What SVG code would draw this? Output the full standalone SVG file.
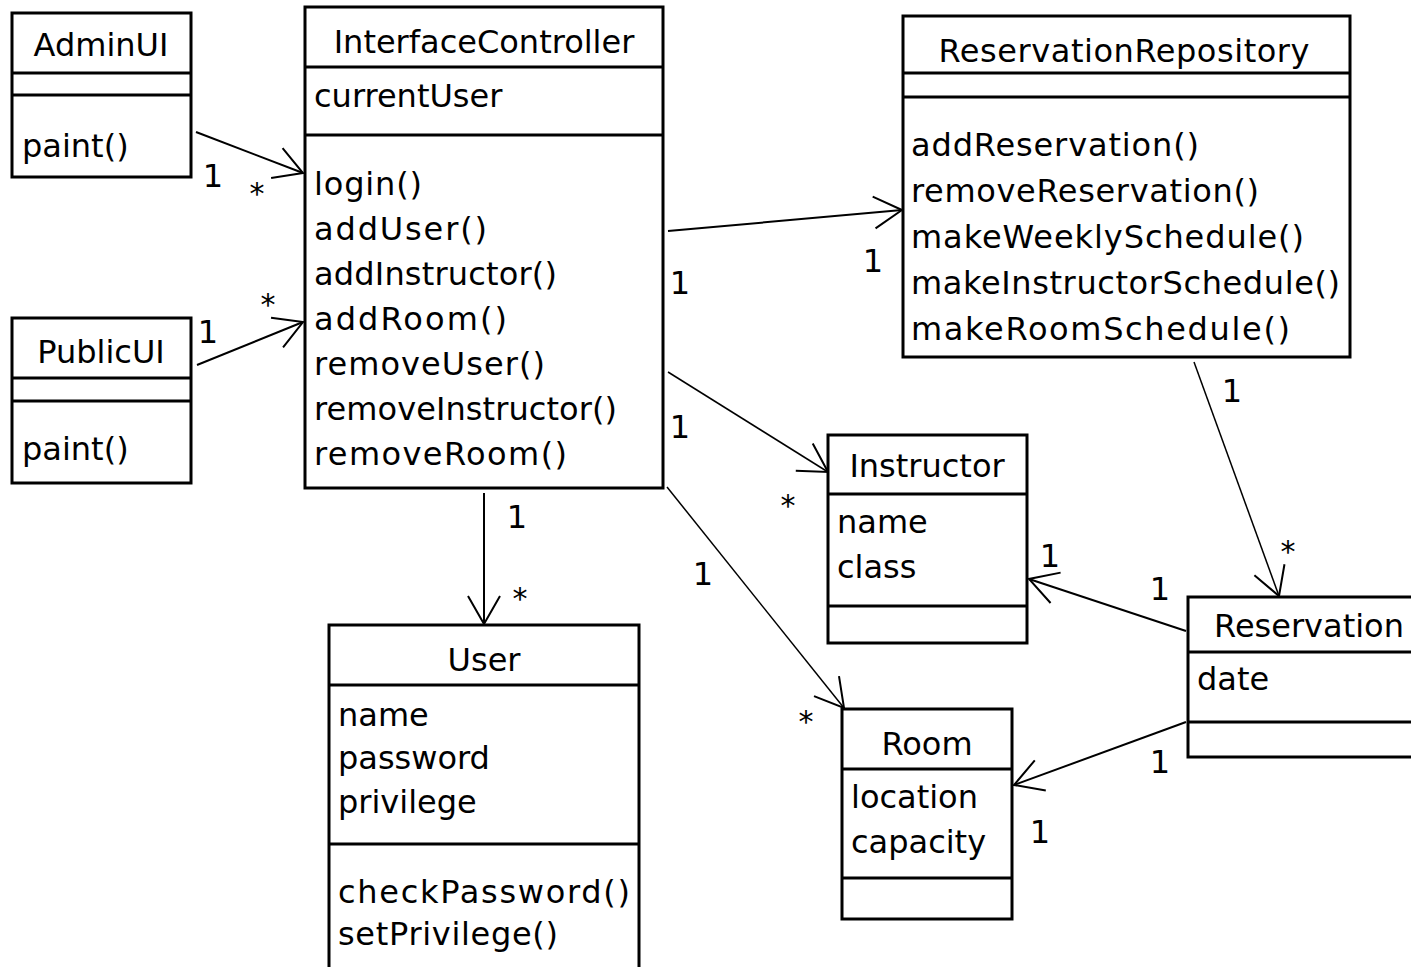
<svg xmlns="http://www.w3.org/2000/svg" width="1411" height="967" viewBox="0 0 1411 967">
<style>
  .box { fill: #ffffff; stroke: #000; stroke-width: 3; }
  .div { stroke: #000; stroke-width: 3; }
  text { font-family: "DejaVu Sans", "Liberation Sans", sans-serif; font-size: 32px; fill: #000; }
  .title { text-anchor: middle; }
  .mult { text-anchor: middle; }
  .star { text-anchor: middle; font-size: 30px; }
  .conn { stroke: #000; stroke-width: 2; fill: none; marker-end: url(#open); }
  .thin { stroke-width: 1.5; }
</style>
<defs>
  <marker id="open" markerUnits="userSpaceOnUse" markerWidth="40" markerHeight="40" refX="0" refY="0" orient="auto" overflow="visible">
    <path d="M-28,-16 L0,0 L-28,16" fill="none" stroke="#000" stroke-width="2"/>
  </marker>
</defs>
<rect x="0" y="0" width="1411" height="967" fill="#ffffff"/>

<g id="connectors">
  <line class="conn" x1="196" y1="132" x2="303" y2="173"/>
  <line class="conn" x1="197" y1="365" x2="303" y2="322"/>
  <line class="conn" x1="668" y1="231" x2="902" y2="210"/>
  <line class="conn thin" x1="668" y1="372" x2="828" y2="472"/>
  <line class="conn thin" x1="667" y1="487" x2="844" y2="708"/>
  <line class="conn" x1="484" y1="493" x2="484" y2="624"/>
  <line class="conn thin" x1="1194" y1="362" x2="1279" y2="596"/>
  <line class="conn" x1="1186" y1="631" x2="1029" y2="579"/>
  <line class="conn" x1="1186" y1="722" x2="1014" y2="785"/>
  <text class="mult" x="213" y="187">1</text>
  <text class="star" x="257" y="204">*</text>
  <text class="mult" x="208" y="343">1</text>
  <text class="star" x="268" y="315">*</text>
  <text class="mult" x="680" y="294">1</text>
  <text class="mult" x="873" y="272">1</text>
  <text class="mult" x="680" y="438">1</text>
  <text class="star" x="788" y="516">*</text>
  <text class="mult" x="703" y="585">1</text>
  <text class="star" x="806" y="732">*</text>
  <text class="mult" x="517" y="528">1</text>
  <text class="star" x="520" y="609">*</text>
  <text class="mult" x="1232" y="402">1</text>
  <text class="star" x="1288" y="562">*</text>
  <text class="mult" x="1050" y="567">1</text>
  <text class="mult" x="1160" y="600">1</text>
  <text class="mult" x="1160" y="773">1</text>
  <text class="mult" x="1040" y="843">1</text>
</g>

<g id="AdminUI">
  <rect class="box" x="12" y="13" width="179" height="164"/>
  <line class="div" x1="12" y1="73" x2="191" y2="73"/>
  <line class="div" x1="12" y1="95" x2="191" y2="95"/>
  <text class="title" x="101" y="56">AdminUI</text>
  <text x="22" y="157">paint()</text>
</g>

<g id="PublicUI">
  <rect class="box" x="12" y="318" width="179" height="165"/>
  <line class="div" x1="12" y1="378" x2="191" y2="378"/>
  <line class="div" x1="12" y1="401" x2="191" y2="401"/>
  <text class="title" x="101" y="363">PublicUI</text>
  <text x="22" y="460">paint()</text>
</g>

<g id="InterfaceController">
  <rect class="box" x="305" y="7" width="358" height="481"/>
  <line class="div" x1="305" y1="67" x2="663" y2="67"/>
  <line class="div" x1="305" y1="135" x2="663" y2="135"/>
  <text class="title" x="484" y="53">InterfaceController</text>
  <text x="314" y="107">currentUser</text>
  <text x="314" y="195" textLength="108" lengthAdjust="spacing">login()</text>
  <text x="314" y="240" textLength="173" lengthAdjust="spacing">addUser()</text>
  <text x="314" y="285" textLength="243" lengthAdjust="spacing">addInstructor()</text>
  <text x="314" y="330" textLength="193" lengthAdjust="spacing">addRoom()</text>
  <text x="314" y="375" textLength="231" lengthAdjust="spacing">removeUser()</text>
  <text x="314" y="420" textLength="303" lengthAdjust="spacing">removeInstructor()</text>
  <text x="314" y="465" textLength="253" lengthAdjust="spacing">removeRoom()</text>
</g>

<g id="ReservationRepository">
  <rect class="box" x="903" y="16" width="447" height="341"/>
  <line class="div" x1="903" y1="73" x2="1350" y2="73"/>
  <line class="div" x1="903" y1="97" x2="1350" y2="97"/>
  <text class="title" x="1124" y="62" textLength="371" lengthAdjust="spacing">ReservationRepository</text>
  <text x="911" y="156" textLength="288" lengthAdjust="spacing">addReservation()</text>
  <text x="911" y="202" textLength="348" lengthAdjust="spacing">removeReservation()</text>
  <text x="911" y="248" textLength="393" lengthAdjust="spacing">makeWeeklySchedule()</text>
  <text x="911" y="294" textLength="429" lengthAdjust="spacing">makeInstructorSchedule()</text>
  <text x="911" y="340" textLength="379" lengthAdjust="spacing">makeRoomSchedule()</text>
</g>

<g id="Instructor">
  <rect class="box" x="828" y="435" width="199" height="208"/>
  <line class="div" x1="828" y1="494" x2="1027" y2="494"/>
  <line class="div" x1="828" y1="606" x2="1027" y2="606"/>
  <text class="title" x="927" y="477">Instructor</text>
  <text x="837" y="533">name</text>
  <text x="837" y="578">class</text>
</g>

<g id="Room">
  <rect class="box" x="842" y="709" width="170" height="210"/>
  <line class="div" x1="842" y1="769" x2="1012" y2="769"/>
  <line class="div" x1="842" y1="878" x2="1012" y2="878"/>
  <text class="title" x="927" y="755">Room</text>
  <text x="851" y="808">location</text>
  <text x="851" y="853">capacity</text>
</g>

<g id="User">
  <rect class="box" x="329" y="625" width="310" height="370"/>
  <line class="div" x1="329" y1="685" x2="639" y2="685"/>
  <line class="div" x1="329" y1="844" x2="639" y2="844"/>
  <text class="title" x="484" y="671">User</text>
  <text x="338" y="726">name</text>
  <text x="338" y="769">password</text>
  <text x="338" y="813">privilege</text>
  <text x="338" y="903" textLength="292" lengthAdjust="spacing">checkPassword()</text>
  <text x="338" y="945" textLength="220" lengthAdjust="spacing">setPrivilege()</text>
</g>

<g id="Reservation">
  <rect class="box" x="1188" y="597" width="243" height="160"/>
  <line class="div" x1="1188" y1="652" x2="1431" y2="652"/>
  <line class="div" x1="1188" y1="722" x2="1431" y2="722"/>
  <text class="title" x="1309" y="637">Reservation</text>
  <text x="1197" y="690">date</text>
</g>
</svg>
